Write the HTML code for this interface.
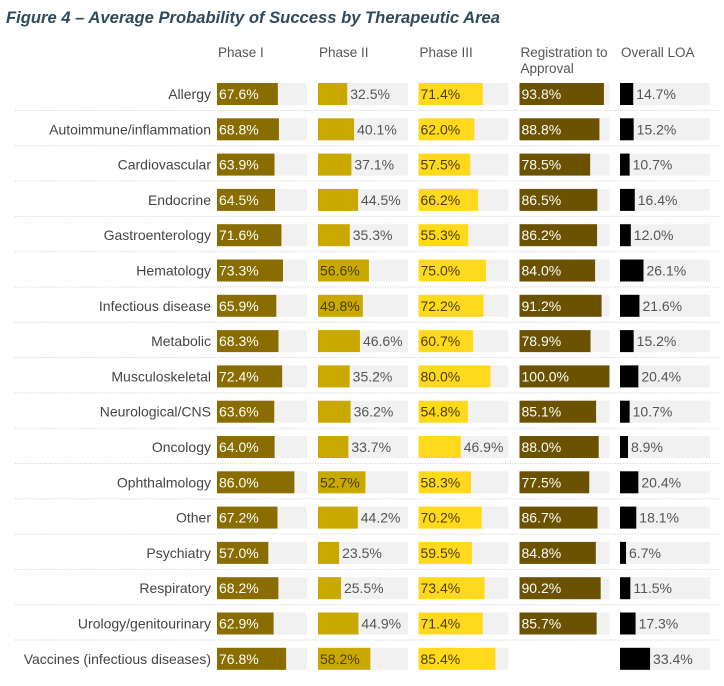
<!DOCTYPE html>
<html><head><meta charset="utf-8"><style>
body{margin:0;background:#fff;width:724px;height:681px;overflow:hidden;font-family:"Liberation Sans",sans-serif}
</style></head><body>
<svg id="c" width="724" height="681">
<text x="6" y="23" font-family="Liberation Sans, sans-serif" font-size="16.6" font-weight="bold" font-style="italic" fill="#2f4a5d">Figure 4 – Average Probability of Success by Therapeutic Area</text>
</svg>
<script>
const categories=["Allergy","Autoimmune/inflammation","Cardiovascular","Endocrine","Gastroenterology","Hematology","Infectious disease","Metabolic","Musculoskeletal","Neurological/CNS","Oncology","Ophthalmology","Other","Psychiatry","Respiratory","Urology/genitourinary","Vaccines (infectious diseases)"];
const seriesNames=["Phase I","Phase II","Phase III","Registration to Approval","Overall LOA"];
const phase1=[67.6,68.8,63.9,64.5,71.6,73.3,65.9,68.3,72.4,63.6,64.0,86.0,67.2,57.0,68.2,62.9,76.8];
const phase2=[32.5,40.1,37.1,44.5,35.3,56.6,49.8,46.6,35.2,36.2,33.7,52.7,44.2,23.5,25.5,44.9,58.2];
const phase3=[71.4,62.0,57.5,66.2,55.3,75.0,72.2,60.7,80.0,54.8,46.9,58.3,70.2,59.5,73.4,71.4,85.4];
const registration=[93.8,88.8,78.5,86.5,86.2,84.0,91.2,78.9,100.0,85.1,88.0,77.5,86.7,84.8,90.2,85.7,null];
const overallLOA=[14.7,15.2,10.7,16.4,12.0,26.1,21.6,15.2,20.4,10.7,8.9,20.4,18.1,6.7,11.5,17.3,33.4];
const series=[phase1,phase2,phase3,registration,overallLOA];
const colors=["#8a6d00","#c9a800","#ffd91c","#6b5200","#000000"];
const inTextCol=["#fff","#4a3d00","#4a3d00","#fff","#fff"];
const colX=[217,318,418.5,519.5,620];
const colW=90, rowY0=94, pitch=35.3, barH=22;
const svg=document.getElementById('c');
const NS='http://www.w3.org/2000/svg';
function mk(t,a){const e=document.createElementNS(NS,t);for(const k in a)e.setAttribute(k,a[k]);svg.appendChild(e);return e;}
function xs(v){return v/100*colW;}
function yc(i){return rowY0+i*pitch;}
seriesNames.forEach((n,j)=>{
  const lines=n==="Registration to Approval"?["Registration to","Approval"]:[n];
  lines.forEach((l,k)=>{const t=mk('text',{x:colX[j]+1,y:57+k*16,'font-size':13.5,fill:'#555'});t.textContent=l;
  
  });
});
categories.forEach((c,i)=>{
  const y=yc(i);
  const t=mk('text',{x:211,y:y+5,'font-size':14,fill:'#444','text-anchor':'end'});t.textContent=c;
  
  
  if(i<categories.length-1){const l=mk('line',{x1:15,x2:720,y1:y+16.5,y2:y+16.5,stroke:'#ccc','stroke-dasharray':'1,1.5'});
  
  }
  series.forEach((s,j)=>{
    const v=s[i];
    if(v===null){return;}
    const bg=mk('rect',{x:colX[j],y:y-barH/2,width:colW,height:barH,fill:'#f1f1f1'});
    
    
    const r=mk('rect',{x:colX[j],y:y-barH/2,width:xs(v),height:barH,fill:colors[j]});
    
    
    const inside=j!==4&&v>=48;
    const lt=mk('text',{x:inside?colX[j]+2:colX[j]+xs(v)+3,y:y+5,'font-size':14,fill:inside?inTextCol[j]:'#555'});
    lt.textContent=v.toFixed(1)+'%';
    
    
  });
});
</script>
</body></html>
